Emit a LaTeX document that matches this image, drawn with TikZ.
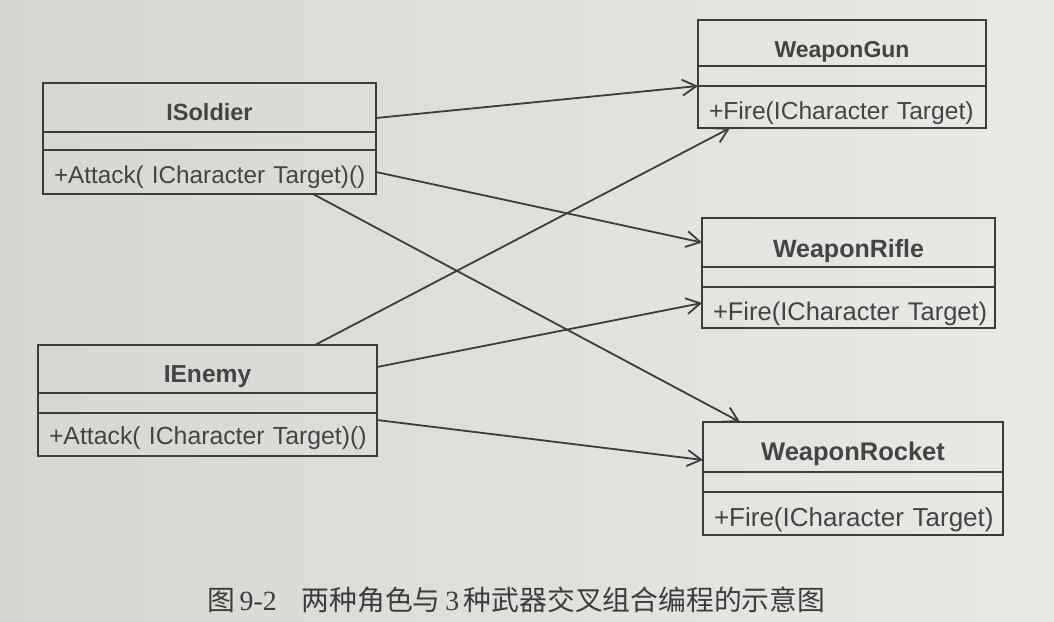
\documentclass[tikz,border=0pt]{standalone}
\usepackage{fontspec}
\setmainfont{Liberation Sans}
\newfontfamily\cjk{Noto Sans CJK SC}
\newfontfamily\capserif{Liberation Serif}
\usetikzlibrary{arrows.meta}
\definecolor{paperL}{RGB}{214,214,210}
\definecolor{paperR}{RGB}{233,233,230}
\definecolor{ink}{RGB}{60,60,60}
\definecolor{txt}{RGB}{68,68,68}
\def\tsz{24}\def\msz{24}\def\tdy{6}\def\mdy{7}
\tikzset{
  box/.style={draw=ink, line width=1.8pt, inner sep=0pt, outer sep=0pt},
  ctitle/.style={box, font=\fontsize{\tsz}{\tsz}\selectfont\bfseries, text=txt},
  cempty/.style={box},
  cmeth/.style={box, font=\fontsize{\msz}{\msz}\selectfont, text=txt, align=left},
  link/.style={draw=ink, line width=1.8pt, -{Straight Barb[length=14pt,width=16pt,line width=1.8pt]}},
}
\newcommand\umlclass[9]{%
  \pgfmathsetmacro\umltw{#4-22}%
  \node[ctitle, minimum width=#4pt, minimum height=#5pt, anchor=north west] (#1-t) at (#2,#3) {\raisebox{-\tdy pt}[\height][\depth]{#8}};
  \node[cempty, minimum width=#4pt, minimum height=#6pt, anchor=north west] (#1-a) at (#1-t.south west) {};
  \node[cmeth, text width=\umltw pt, inner xsep=11pt, minimum height=#7pt, anchor=north west] (#1-m) at (#1-a.south west) {\raisebox{-\mdy pt}[\height][\depth]{#9}};
}
\begin{document}
\begin{tikzpicture}[x=1pt,y=-1pt]
\shade[left color=paperL, right color=paperR] (0,0) rectangle (1054,621);
\useasboundingbox (0,0) rectangle (1054,621);
\def\tsz{23.5}\def\msz{24.3}\def\tdy{4.5}\def\mdy{5}
\umlclass{s}{43}{83}{333}{49}{18}{44}{ISoldier}{+Attack( ICharacter Target)()}
\def\tsz{24.6}\def\msz{24.8}\def\tdy{8}\def\mdy{4}
\umlclass{e}{38}{345}{339}{48}{20}{43}{IEnemy}{+Attack( ICharacter Target)()}
\def\tsz{23}\def\msz{24.6}\def\tdy{9}\def\mdy{6}
\umlclass{g}{698}{20}{288}{46}{20}{42}{WeaponGun}{+Fire(ICharacter Target)}
\def\tsz{25}\def\msz{25.5}\def\tdy{9}\def\mdy{6}
\umlclass{r}{702}{218}{293}{49}{20}{41}{WeaponRifle}{+Fire(ICharacter Target)}
\def\tsz{25.5}\def\msz{26}\def\tdy{7}\def\mdy{6}
\umlclass{k}{703}{422}{300}{50}{20}{43}{WeaponRocket}{+Fire(ICharacter Target)}
\draw[link] ([yshift=-10.5pt]s-t.east) -- (g-a.south west);
\draw[link] (s-m.east) -- (r-t.west);
\draw[link] ([xshift=-63pt]s-m.south east) -- ([xshift=37pt]k-t.north west);
\draw[link] ([xshift=-62pt]e-t.north east) -- ([xshift=32pt]g-m.south west);
\draw[link] ([yshift=2pt]e-t.east) -- ([yshift=4.5pt]r-m.west);
\draw[link] ([yshift=14.5pt]e-m.east) -- ([yshift=-13pt]k-t.west);
\node[anchor=west, inner sep=0pt, text=ink, font=\fontsize{27.8}{30}\selectfont] (cap) at (207,600)
  {{\cjk 图}\,{\capserif 9-2}\hspace{0.9em}{\cjk 两种角色与}\,{\capserif 3}\,{\cjk 种武器交叉组合编程的示意图}};
\end{tikzpicture}
\end{document}
